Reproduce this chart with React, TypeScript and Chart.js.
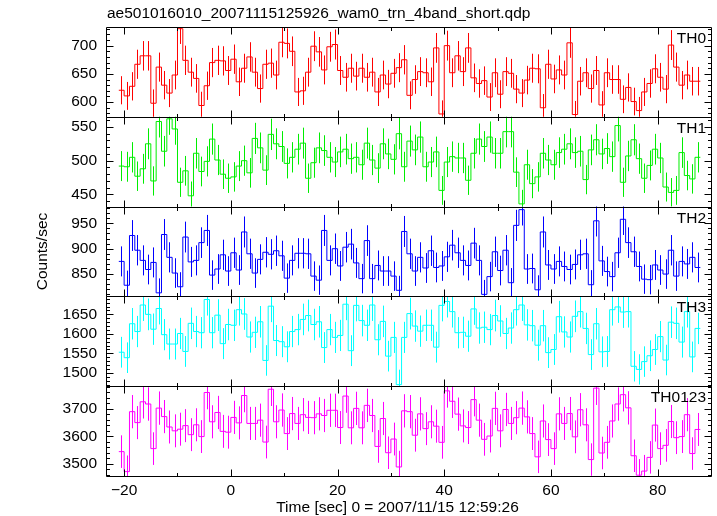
import React, { useEffect, useRef } from "react";
import { Chart, registerables } from "chart.js";

Chart.register(...registerables);

const FONT_FAMILY = "'Liberation Sans', Arial, Helvetica, sans-serif";
const FONT_SIZE = 15.5;

const TITLE = "ae501016010_20071115125926_wam0_trn_4band_short.qdp";
const X_LABEL = "Time [sec] 0 = 2007/11/15 12:59:26";
const Y_LABEL = "Counts/sec";

// 1-second bins, left edge of the first bin
const BIN_START = -21;
const BIN_WIDTH = 1;

const X_MIN = -23.4;
const X_MAX = 90;
const X_TICKS = [-20, 0, 20, 40, 60, 80];
const X_MINOR_TICKS = [-10, 10, 30, 50, 70];

const TH0 = [
  621, 611, 628, 667, 682, 682, 598, 662, 630, 616,
  648, 730, 674, 653, 642, 594, 629, 670, 674, 673,
  656, 676, 636, 660, 680, 653, 624, 667, 669, 648,
  706, 704, 690, 618, 620, 653, 699, 689, 657, 698,
  702, 656, 644, 660, 646, 660, 644, 653, 618, 648,
  632, 651, 661, 675, 612, 640, 654, 652, 636, 696,
  579, 700, 652, 682, 654, 696, 643, 633, 638, 609,
  652, 614, 654, 651, 623, 616, 639, 660, 659, 590,
  667, 641, 657, 648, 705, 578, 637, 652, 624, 656,
  595, 652, 640, 640, 605, 626, 601, 585, 618, 633,
  659, 644, 623, 701, 662, 630, 648, 637, 637,
];

const TH1 = [
  492, 491, 505, 477, 488, 525, 470, 558, 514, 562,
  547, 468, 485, 448, 511, 484, 499, 532, 501, 480,
  474, 476, 492, 500, 482, 533, 519, 486, 539, 525,
  521, 496, 505, 517, 526, 474, 497, 519, 515, 505,
  498, 513, 517, 503, 505, 494, 526, 501, 489, 525,
  510, 502, 540, 491, 529, 516, 535, 491, 498, 513,
  456, 498, 506, 504, 504, 471, 511, 532, 521, 535,
  511, 511, 543, 543, 483, 436, 494, 466, 476, 511,
  501, 494, 512, 517, 525, 512, 514, 472, 516, 531,
  510, 518, 506, 552, 468, 507, 531, 503, 474, 493,
  517, 504, 461, 453, 456, 512, 478, 473, 505,
];

const TH2 = [
  875, 828, 926, 897, 877, 859, 873, 813, 928, 883,
  852, 825, 923, 874, 877, 912, 936, 848, 860, 888,
  856, 892, 858, 933, 890, 852, 879, 893, 889, 896,
  886, 842, 877, 891, 891, 890, 846, 838, 936, 877,
  900, 866, 903, 909, 872, 841, 916, 841, 867, 856,
  856, 846, 818, 934, 890, 856, 883, 862, 896, 863,
  866, 884, 907, 892, 877, 867, 911, 877, 810, 845,
  894, 857, 897, 833, 946, 977, 860, 861, 819, 933,
  868, 860, 875, 865, 859, 869, 888, 890, 829, 955,
  876, 855, 845, 892, 958, 912, 894, 865, 840, 839,
  868, 858, 850, 897, 846, 875, 870, 883, 863,
];

const TH3 = [
  1553, 1539, 1626, 1606, 1674, 1650, 1612, 1665, 1598, 1574,
  1574, 1601, 1555, 1627, 1606, 1603, 1688, 1603, 1648, 1575,
  1624, 1622, 1662, 1651, 1592, 1604, 1631, 1532, 1671, 1583,
  1580, 1567, 1606, 1611, 1637, 1647, 1624, 1631, 1565, 1611,
  1591, 1596, 1676, 1557, 1673, 1634, 1622, 1674, 1585, 1632,
  1543, 1591, 1470, 1591, 1652, 1620, 1607, 1622, 1622, 1566,
  1673, 1683, 1657, 1603, 1604, 1594, 1664, 1615, 1617, 1611,
  1647, 1633, 1601, 1615, 1662, 1674, 1623, 1621, 1571, 1621,
  1552, 1560, 1644, 1605, 1592, 1645, 1657, 1614, 1547, 1626,
  1554, 1555, 1662, 1669, 1656, 1657, 1517, 1509, 1529, 1544,
  1560, 1593, 1533, 1630, 1627, 1579, 1657, 1541, 1614,
];

const TH0123 = [
  3544, 3471, 3690, 3650, 3726, 3718, 3555, 3703, 3672, 3634,
  3620, 3626, 3639, 3606, 3642, 3599, 3760, 3653, 3687, 3618,
  3615, 3669, 3649, 3749, 3647, 3647, 3659, 3579, 3772, 3653,
  3696, 3610, 3683, 3647, 3679, 3669, 3668, 3682, 3676, 3695,
  3695, 3632, 3747, 3631, 3702, 3631, 3713, 3676, 3563, 3665,
  3540, 3590, 3488, 3693, 3690, 3604, 3682, 3628, 3653, 3637,
  3578, 3766, 3728, 3681, 3638, 3632, 3734, 3659, 3589, 3601,
  3702, 3620, 3698, 3647, 3668, 3703, 3671, 3610, 3525, 3656,
  3588, 3555, 3682, 3647, 3683, 3598, 3697, 3642, 3515, 3776,
  3539, 3578, 3656, 3718, 3752, 3704, 3529, 3458, 3473, 3523,
  3641, 3555, 3567, 3654, 3595, 3599, 3679, 3537, 3625,
];

const TH0_TICKS = [600, 650, 700];
const TH1_TICKS = [450, 500, 550];
const TH2_TICKS = [850, 900, 950];
const TH3_TICKS = [1500, 1550, 1600, 1650];
const TH0123_TICKS = [3500, 3600, 3700];

type Panel = {
  id: string;
  name: string;
  color: string;
  values: number[];
  min: number;
  max: number;
  ticks: number[];
  minorStep: number;
};

const PANELS: Panel[] = [
  { id: "y0", name: "TH0", color: "#ff0000", values: TH0, min: 574, max: 733, ticks: TH0_TICKS, minorStep: 10 },
  { id: "y1", name: "TH1", color: "#00ee00", values: TH1, min: 432, max: 565, ticks: TH1_TICKS, minorStep: 10 },
  { id: "y2", name: "TH2", color: "#0000ff", values: TH2, min: 806, max: 983, ticks: TH2_TICKS, minorStep: 10 },
  { id: "y3", name: "TH3", color: "#00ffff", values: TH3, min: 1466, max: 1696, ticks: TH3_TICKS, minorStep: 10 },
  { id: "y4", name: "TH0123", color: "#ff00ff", values: TH0123, min: 3455, max: 3783, ticks: TH0123_TICKS, minorStep: 20 },
];

const fmt = (v: number) => String(v).replace("-", "\u2212");
const fontCss = `${FONT_SIZE}px ${FONT_FAMILY}`;

const MAJOR_LEN = 7;
const MINOR_LEN = 3.5;

const px = (v: number) => Math.round(v) + 0.5;

const qdpPlugin = {
  id: "qdpDecor",
  beforeDatasetDraw(chart: any, args: any) {
    const p = PANELS[args.index];
    const ys = chart.scales[p.id];
    const { left, right } = chart.chartArea;
    const ctx = chart.ctx;
    ctx.save();
    ctx.beginPath();
    ctx.rect(left, ys.top, right - left, ys.bottom - ys.top);
    ctx.clip();
  },
  afterDatasetDraw(chart: any, args: any) {
    const p = PANELS[args.index];
    const xs = chart.scales.x;
    const ys = chart.scales[p.id];
    const ctx = chart.ctx;
    ctx.strokeStyle = p.color;
    ctx.lineWidth = 1;
    ctx.beginPath();
    p.values.forEach((v, i) => {
      const err = Math.sqrt(v);
      const x = px(xs.getPixelForValue(BIN_START + (i + 0.5) * BIN_WIDTH));
      ctx.moveTo(x, ys.getPixelForValue(v + err));
      ctx.lineTo(x, ys.getPixelForValue(v - err));
    });
    ctx.stroke();
    ctx.restore();
  },
  afterDraw(chart: any) {
    const ctx = chart.ctx;
    const { left, right } = chart.chartArea;
    const L = px(left);
    const R = px(right);
    const xs = chart.scales.x;
    ctx.save();
    ctx.strokeStyle = "#000";
    ctx.lineWidth = 1;
    PANELS.forEach((p) => {
      const ys = chart.scales[p.id];
      const top = px(ys.top);
      const bottom = px(ys.bottom);
      ctx.beginPath();
      ctx.moveTo(L, top);
      ctx.lineTo(R, top);
      ctx.moveTo(L, bottom);
      ctx.lineTo(R, bottom);
      ctx.moveTo(L, top);
      ctx.lineTo(L, bottom);
      ctx.moveTo(R, top);
      ctx.lineTo(R, bottom);
      // x ticks top & bottom
      const xt = (v: number, len: number) => {
        const x = px(xs.getPixelForValue(v));
        ctx.moveTo(x, top);
        ctx.lineTo(x, top + len);
        ctx.moveTo(x, bottom);
        ctx.lineTo(x, bottom - len);
      };
      X_TICKS.forEach((v) => xt(v, MAJOR_LEN));
      X_MINOR_TICKS.forEach((v) => xt(v, MINOR_LEN));
      // y ticks left & right
      const yt = (v: number, len: number) => {
        const y = px(ys.getPixelForValue(v));
        ctx.moveTo(L, y);
        ctx.lineTo(L + len, y);
        ctx.moveTo(R, y);
        ctx.lineTo(R - len, y);
      };
      for (let v = Math.ceil(p.min / p.minorStep) * p.minorStep; v <= p.max; v += p.minorStep) {
        if (p.ticks.indexOf(v) < 0) yt(v, MINOR_LEN);
      }
      p.ticks.forEach((v) => yt(v, MAJOR_LEN));
      ctx.stroke();

      // panel label
      ctx.fillStyle = "#000";
      ctx.font = fontCss;
      ctx.textAlign = "right";
      ctx.textBaseline = "alphabetic";
      ctx.fillText(p.name, right - 5, ys.top + 16);
    });

    // main title
    ctx.fillStyle = "#000";
    ctx.font = fontCss;
    ctx.textAlign = "left";
    ctx.textBaseline = "alphabetic";
    ctx.fillText(TITLE, left + 1, 18);

    // x label
    ctx.textAlign = "center";
    ctx.fillText(X_LABEL, 397.5, 512);

    // y label
    const mid = chart.scales[PANELS[2].id];
    ctx.translate(47, (mid.top + mid.bottom) / 2);
    ctx.rotate(-Math.PI / 2);
    ctx.textAlign = "center";
    ctx.textBaseline = "alphabetic";
    ctx.fillText(Y_LABEL, 0, 0);
    ctx.restore();
  },
};

export default function App() {
  const ref = useRef<HTMLCanvasElement>(null);

  useEffect(() => {
    const scales: any = {
      x: {
        type: "linear",
        position: "bottom",
        min: X_MIN,
        max: X_MAX,
        afterBuildTicks: (s: any) => {
          s.ticks = X_TICKS.map((v) => ({ value: v }));
        },
        afterFit: (s: any) => {
          s.height = 40;
        },
        grid: { display: false, drawTicks: false },
        border: { display: false },
        ticks: {
          padding: 5,
          color: "#000",
          font: { family: FONT_FAMILY, size: FONT_SIZE },
          maxRotation: 0,
          autoSkip: false,
          callback: (v: any) => fmt(Number(v)),
        },
      },
    };
    PANELS.forEach((p, i) => {
      scales[p.id] = {
        type: "linear",
        position: "left",
        stack: "panels",
        stackWeight: 1,
        weight: PANELS.length - i,
        min: p.min,
        max: p.max,
        afterBuildTicks: (s: any) => {
          s.ticks = p.ticks.map((v) => ({ value: v }));
        },
        afterFit: (s: any) => {
          s.width = 106;
        },
        grid: { display: false, drawTicks: false },
        border: { display: false },
        ticks: {
          padding: 9,
          color: "#000",
          font: { family: FONT_FAMILY, size: FONT_SIZE },
          autoSkip: false,
          callback: (v: any) => fmt(Number(v)),
        },
      };
    });

    const datasets = PANELS.map((p) => ({
      label: p.name,
      yAxisID: p.id,
      xAxisID: "x",
      data: p.values
        .map((v, i) => ({ x: BIN_START + i * BIN_WIDTH, y: v }))
        .concat([{ x: BIN_START + p.values.length * BIN_WIDTH, y: p.values[p.values.length - 1] }]),
      borderColor: p.color,
      borderWidth: 1,
      pointRadius: 0,
      fill: false,
      stepped: "before",
      tension: 0,
    }));

    const chart = new Chart(ref.current as HTMLCanvasElement, {
      type: "line",
      data: { datasets } as any,
      options: {
        animation: false,
        responsive: false,
        maintainAspectRatio: false,
        devicePixelRatio: 1,
        layout: { padding: { top: 27, right: 6, left: 0, bottom: 0 } },
        scales,
        plugins: {
          legend: { display: false },
          tooltip: { enabled: false },
          title: { display: false },
        },
      } as any,
      plugins: [qdpPlugin as any],
    });
    return () => chart.destroy();
  }, []);

  return (
    <div style={{ position: "fixed", left: 0, top: 0, width: 717, height: 516, background: "#fff" }}>
      <canvas ref={ref} width={717} height={516} style={{ display: "block", width: 717, height: 516 }} />
    </div>
  );
}
